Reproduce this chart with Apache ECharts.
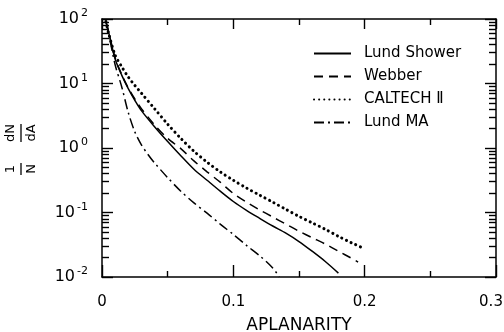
<!DOCTYPE html>
<html><head><meta charset="utf-8">
<script src="https://cdn.jsdelivr.net/npm/echarts@6/dist/echarts.min.js"></script>
<style>html,body{margin:0;padding:0;background:#fff}#c{width:504px;height:332px}</style>
</head><body><div id="c"></div>
<script>
// ---- data ----
const seriesNames = ['Lund Shower', 'Webber', 'CALTECH \u2161', 'Lund MA'];

const xLundShower = [0.003,0.005,0.01,0.015,0.02,0.025,0.03,0.04,0.05,0.06,0.07,0.08,0.09,0.10,0.11,0.12,0.13,0.14,0.15,0.16,0.17,0.18];
const yLundShower = [91.2,63.1,24.0,13.5,8.32,5.50,3.80,2.14,1.26,0.759,0.468,0.316,0.214,0.148,0.108,0.0813,0.0617,0.0479,0.0355,0.0251,0.0174,0.0115];

const xWebber = [0.003,0.005,0.01,0.015,0.02,0.025,0.03,0.04,0.05,0.06,0.07,0.08,0.09,0.10,0.11,0.12,0.13,0.14,0.15,0.16,0.17,0.18,0.19,0.195];
const yWebber = [91.2,63.1,25.1,13.8,8.51,5.75,4.07,2.29,1.41,0.977,0.631,0.427,0.295,0.197,0.145,0.110,0.0851,0.0661,0.0513,0.0407,0.0324,0.0251,0.0195,0.0170];

const xCaltech = [0.003,0.005,0.01,0.015,0.02,0.025,0.03,0.04,0.05,0.06,0.07,0.08,0.09,0.10,0.11,0.12,0.13,0.14,0.15,0.16,0.17,0.18,0.19,0.20];
const yCaltech = [91.2,60.3,27.5,18.2,12.6,9.33,7.08,4.07,2.34,1.41,0.891,0.603,0.427,0.316,0.240,0.186,0.145,0.112,0.0871,0.0692,0.0550,0.0427,0.0339,0.0275];

const xLundMA = [0.003,0.005,0.01,0.015,0.02,0.025,0.03,0.035,0.04,0.05,0.06,0.07,0.08,0.09,0.10,0.11,0.12,0.13,0.135];
const yLundMA = [91.2,60.3,19.5,8.91,3.55,1.78,1.12,0.794,0.589,0.347,0.214,0.141,0.0977,0.0661,0.0457,0.0309,0.0214,0.0138,0.0100];

const xMajorTicks = [0, 0.1, 0.2, 0.3];
const xMinorTicks = [0.05, 0.15, 0.25];
const yMajorTicks = [0.01, 0.1, 1, 10, 100];
const yMinorTicks = [0.02,0.03,0.04,0.05,0.06,0.07,0.08,0.09,
                     0.2,0.3,0.4,0.5,0.6,0.7,0.8,0.9,
                     2,3,4,5,6,7,8,9,
                     20,30,40,50,60,70,80,90];

// ---- chart ----
const FONT = 'DejaVu Sans';
const pair = (xs, ys) => xs.map((x, i) => [x, ys[i]]);
const tickStyle = {color: '#000', width: 1.4};
const lineOn = {show: true, onZero: false, lineStyle: {color: '#000', width: 1.5}};
const lineOff = {show: false, onZero: false};

function xAx(position, ticks, len, labels, withLine) {
  const a = {
    type: 'value', min: 0, max: 0.3, interval: 0.1, position,
    axisLine: withLine ? lineOn : lineOff, splitLine: {show: false},
    axisTick: {show: true, inside: true, length: len, customValues: ticks, lineStyle: tickStyle},
    axisLabel: {show: false}
  };
  if (labels) {
    a.axisLabel = {show: true, color: '#000', margin: 18, customValues: xMajorTicks,
      formatter: v => v === 0 ? '{n|0}' : (v >= 0.3 ? '{r|' + v.toFixed(1) + '}' : '{n|' + v.toFixed(1) + '}'),
      rich: {
        n: {fontSize: 15, fontFamily: FONT, color: '#000'},
        r: {fontSize: 15, fontFamily: FONT, color: '#000', padding: [0, 10, 0, 0]}
      }};
    a.name = 'APLANARITY'; a.nameLocation = 'middle'; a.nameGap = 40;
    a.nameTextStyle = {fontSize: 17, color: '#000', fontFamily: FONT};
  }
  return a;
}
function yAx(position, ticks, len, labels, withLine) {
  const a = {
    type: 'log', logBase: 10, min: 0.01, max: 100, position,
    axisLine: withLine ? lineOn : lineOff, splitLine: {show: false},
    axisTick: {show: true, inside: true, length: len, customValues: ticks, lineStyle: tickStyle},
    axisLabel: {show: false}
  };
  if (labels) {
    a.axisLabel = {
      show: true, margin: 14, color: '#000', customValues: yMajorTicks,
      formatter: v => '{b|10}{s|' + Math.round(Math.log10(v)) + '}',
      rich: {
        b: {fontSize: 16, lineHeight: 22, fontFamily: FONT, color: '#000'},
        s: {fontSize: 11, lineHeight: 12, verticalAlign: 'top', fontFamily: FONT, color: '#000', padding: [0, 0, 0, 2]}
      }
    };
  }
  return a;
}

const chart = echarts.init(document.getElementById('c'), null, {renderer: 'canvas'});
chart.setOption({
  animation: false,
  backgroundColor: '#fff',
  textStyle: {fontFamily: FONT},
  grid: {left: 102, right: 8, top: 19, bottom: 55, outerBoundsMode: 'none'},
  legend: {
    orient: 'vertical', left: 308, top: 41,
    itemWidth: 37, itemHeight: 14, itemGap: 8,
    itemStyle: {opacity: 0, borderWidth: 0},
    textStyle: {fontSize: 15, color: '#000', fontFamily: FONT, padding: [0, 0, 0, 8]},
    data: seriesNames
  },
  xAxis: [
    xAx('bottom', xMajorTicks, 12, true, true),
    xAx('bottom', xMinorTicks, 6, false, false),
    xAx('top', xMajorTicks, 10, false, true),
    xAx('top', xMinorTicks, 6, false, false)
  ],
  yAxis: [
    yAx('left', yMajorTicks, 11, true, true),
    yAx('left', yMinorTicks, 7, false, false),
    yAx('right', yMajorTicks, 11, false, true),
    yAx('right', yMinorTicks, 7, false, false)
  ],
  graphic: [{
    type: 'group', x: 21, y: 150, rotation: Math.PI / 2,
    children: [
      {type: 'text', x: -19, y: -10, style: {text: '1', fontSize: 13, fontFamily: FONT, fill: '#000', align: 'center', verticalAlign: 'middle'}},
      {type: 'line', shape: {x1: -25, y1: 0, x2: -13, y2: 0}, style: {stroke: '#000', lineWidth: 1.3}},
      {type: 'text', x: -19, y: 11, style: {text: 'N', fontSize: 13, fontFamily: FONT, fill: '#000', align: 'center', verticalAlign: 'middle'}},
      {type: 'text', x: 17, y: -10, style: {text: 'dN', fontSize: 13, fontFamily: FONT, fill: '#000', align: 'center', verticalAlign: 'middle'}},
      {type: 'line', shape: {x1: 8, y1: 0, x2: 26, y2: 0}, style: {stroke: '#000', lineWidth: 1.3}},
      {type: 'text', x: 17, y: 11, style: {text: 'dA', fontSize: 13, fontFamily: FONT, fill: '#000', align: 'center', verticalAlign: 'middle'}}
    ]
  }],
  series: [
    {name: seriesNames[0], type: 'line', data: pair(xLundShower, yLundShower), smooth: 0.3, symbol: 'none',
     itemStyle: {color: '#000'}, lineStyle: {color: '#000', width: 1.5, type: 'solid'}},
    {name: seriesNames[1], type: 'line', data: pair(xWebber, yWebber), smooth: 0.3, symbol: 'none',
     itemStyle: {color: '#000'}, lineStyle: {color: '#000', width: 1.5, type: [9, 6]}},
    {name: seriesNames[2], type: 'line', data: pair(xCaltech, yCaltech), smooth: 0.3, symbol: 'none',
     itemStyle: {color: '#000'}, lineStyle: {color: '#000', width: 3, type: [0.1, 5], cap: 'round'}},
    {name: seriesNames[3], type: 'line', data: pair(xLundMA, yLundMA), smooth: 0.3, symbol: 'none',
     itemStyle: {color: '#000'}, lineStyle: {color: '#000', width: 1.5, type: [10, 4, 2, 4]}}
  ]
});
</script>
</body></html>
